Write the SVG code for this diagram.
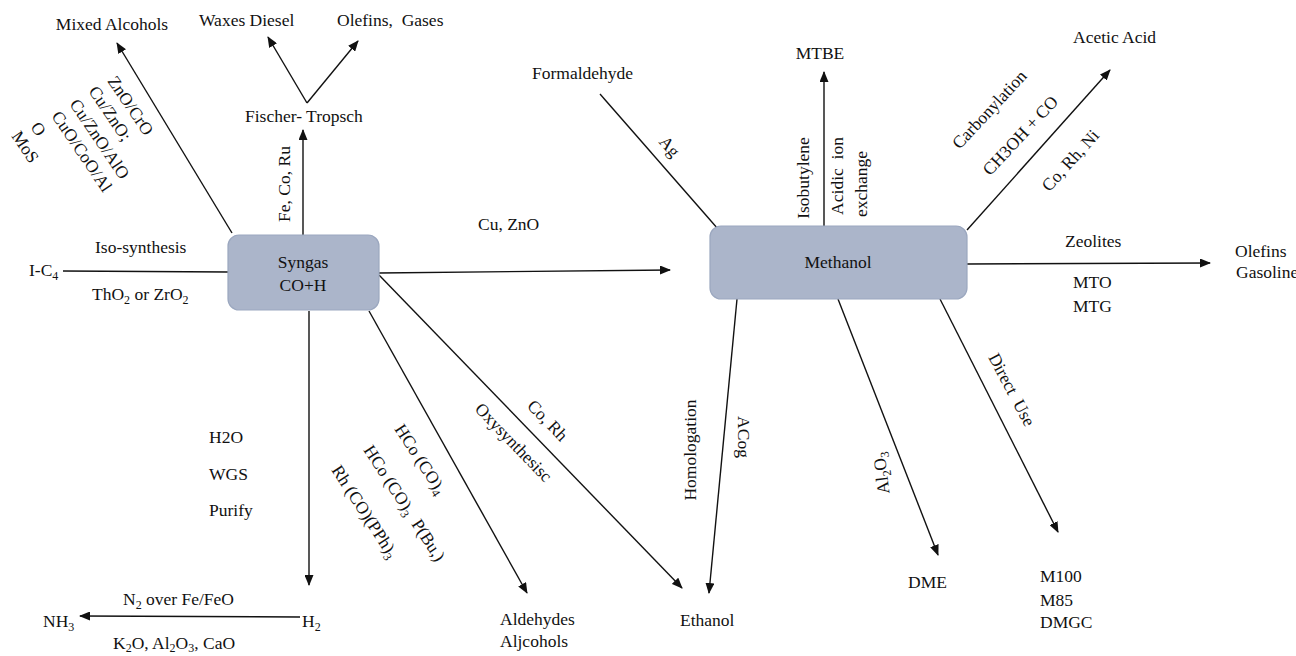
<svg xmlns="http://www.w3.org/2000/svg" width="1296" height="656" viewBox="0 0 1296 656" font-family="'Liberation Serif', 'DejaVu Serif', serif">
<style>
text{font-family:'Liberation Serif','DejaVu Serif',serif;font-size:17.5px;fill:#111;white-space:pre}
.m{text-anchor:middle}
.s{font-size:12px}
.box{fill:#abb5ca;stroke:#9ba7bf;stroke-width:1.2}
.c{stroke:#111;stroke-width:1.4;fill:none}
.a{marker-end:url(#ah)}
</style>
<defs>
<marker id="ah" markerWidth="11" markerHeight="9" refX="10" refY="4.5" orient="auto" markerUnits="userSpaceOnUse">
<path d="M0,0 L11,4.5 L0,9 z" fill="#111"/>
</marker>
</defs>
<rect width="1296" height="656" fill="#fff"/>
<g id="connectors">
<path class="c a" d="M232,233 L117,43"/>
<path class="c a" d="M303,235 L303,130"/>
<path class="c a" d="M307,103 L268,37"/>
<path class="c a" d="M307,103 L358,41"/>
<path class="c" d="M63,271 L228,272"/>
<path class="c a" d="M379,273 L670,270"/>
<path class="c a" d="M309,311 L309,585"/>
<path class="c a" d="M300,617 L80,616"/>
<path class="c a" d="M369,311 L527,593"/>
<path class="c a" d="M379,275 L682,588"/>
<path class="c a" d="M737,299 L709,593"/>
<path class="c a" d="M838,299 L938,555"/>
<path class="c a" d="M940,299 L1058,532"/>
<path class="c a" d="M967,264 L1210,263"/>
<path class="c a" d="M967,230 L1110,70"/>
<path class="c a" d="M824,226 L824,72"/>
<path class="c" d="M600,94 L718,229"/>
</g>
<g id="syngas">
<rect class="box" x="228" y="235" width="151" height="75" rx="11"/>
<text class="m" x="303" y="268">Syngas</text>
<text class="m" x="303" y="291">CO+H</text>
</g>
<g id="methanol">
<rect class="box" x="710" y="226" width="257" height="73" rx="11"/>
<text class="m" x="838" y="268">Methanol</text>
</g>
<g id="mixed-alcohols">
<text class="m" x="112" y="30">Mixed Alcohols</text>
<text transform="translate(107,81) rotate(56)">ZnO/CrO</text>
<text transform="translate(88,91) rotate(56)">Cu/ZnO;</text>
<text transform="translate(69,104) rotate(56)">Cu/ZnO/AlO</text>
<text transform="translate(51,116) rotate(56)">CuO/CoO/Al</text>
<text transform="translate(30,127) rotate(56)">O</text>
<text transform="translate(11,136) rotate(56)">MoS</text>
</g>
<g id="fischer-tropsch">
<text x="245" y="122">Fischer- Tropsch</text>
<text class="m" transform="translate(285,184) rotate(-90)" y="5">Fe, Co, Ru</text>
<text x="199" y="26">Waxes Diesel</text>
<text x="337" y="26">Olefins,  Gases</text>
</g>
<g id="iso">
<text x="95" y="253">Iso-synthesis</text>
<text x="92" y="300">ThO<tspan class="s" dy="4">2</tspan><tspan dy="-4"> or ZrO</tspan><tspan class="s" dy="4">2</tspan></text>
<text x="29" y="276">I-C<tspan class="s" dy="4">4</tspan></text>
</g>
<g id="hydrogen">
<text x="209" y="443">H2O</text>
<text x="209" y="480">WGS</text>
<text x="209" y="516">Purify</text>
<text x="302" y="627">H<tspan class="s" dy="4">2</tspan></text>
</g>
<g id="ammonia">
<text x="123" y="605">N<tspan class="s" dy="4">2</tspan><tspan dy="-4"> over Fe/FeO</tspan></text>
<text x="43" y="627">NH<tspan class="s" dy="4">3</tspan></text>
<text x="113" y="649">K<tspan class="s" dy="3">2</tspan><tspan dy="-3">O, Al</tspan><tspan class="s" dy="3">2</tspan><tspan dy="-3">O</tspan><tspan class="s" dy="3">3</tspan><tspan dy="-3">, CaO</tspan></text>
</g>
<g id="aldehydes">
<text transform="translate(394,429) rotate(57)">HCo (CO)<tspan class="s" dy="4">4</tspan></text>
<text transform="translate(363,450) rotate(57)">HCo (CO)<tspan class="s" dy="4">3</tspan><tspan dy="-4">  P(Bu,)</tspan></text>
<text transform="translate(331,470) rotate(57)">Rh (CO)(PPh)<tspan class="s" dy="4">3</tspan></text>
<text x="500" y="625">Aldehydes</text>
<text x="500" y="647">Aljcohols</text>
</g>
<g id="ethanol">
<text class="m" transform="translate(547,421) rotate(46)" y="5">Co, Rh</text>
<text class="m" transform="translate(513,443) rotate(46)" y="5">Oxysynthesisc</text>
<text class="m" transform="translate(691,450) rotate(-90)" y="5">Homologation</text>
<text class="m" transform="translate(743,437) rotate(90)" y="5">ACog</text>
<text x="680" y="626">Ethanol</text>
</g>
<g id="cu-zno">
<text x="478" y="230">Cu, ZnO</text>
</g>
<g id="formaldehyde">
<text x="532" y="79">Formaldehyde</text>
<text class="m" transform="translate(669,147) rotate(49)" y="5">Ag</text>
</g>
<g id="mtbe">
<text class="m" x="820" y="59">MTBE</text>
<text class="m" transform="translate(804,178) rotate(-90)" y="5">Isobutylene</text>
<text class="m" transform="translate(838,176) rotate(-90)" y="5">Acidic  ion</text>
<text class="m" transform="translate(863,184) rotate(-90)" y="4">exchange</text>
</g>
<g id="acetic-acid">
<text x="1073" y="43">Acetic Acid</text>
<text class="m" transform="translate(990,110) rotate(-47)" y="5">Carbonylation</text>
<text class="m" transform="translate(1021,136) rotate(-47)" y="5">CH3OH + CO</text>
<text class="m" transform="translate(1071,161) rotate(-48)" y="5">Co, Rh, Ni</text>
</g>
<g id="olefins-gasoline">
<text x="1065" y="247">Zeolites</text>
<text x="1073" y="288">MTO</text>
<text x="1073" y="312">MTG</text>
<text x="1235" y="257">Olefins</text>
<text x="1236" y="278">Gasoline</text>
</g>
<g id="dme">
<text class="m" transform="translate(882,473) rotate(-97)" y="5">Al<tspan class="s" dy="4">2</tspan><tspan dy="-4">O</tspan><tspan class="s" dy="4">3</tspan></text>
<text x="908" y="588">DME</text>
</g>
<g id="direct-use">
<text class="m" transform="translate(1011,390) rotate(62)" y="5">Direct  Use</text>
<text x="1040" y="582">M100</text>
<text x="1040" y="606">M85</text>
<text x="1040" y="628">DMGC</text>
</g>
</svg>
